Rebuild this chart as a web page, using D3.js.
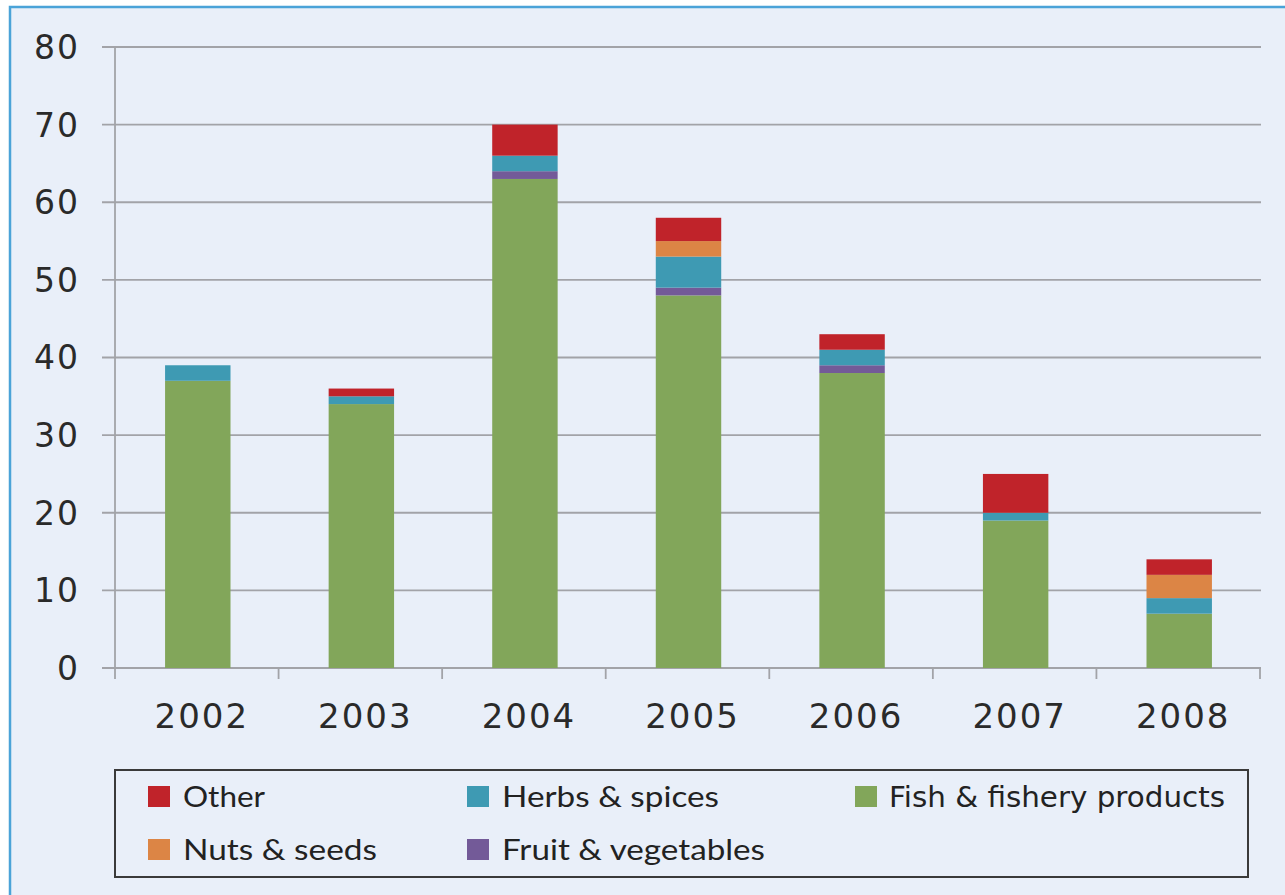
<!DOCTYPE html>
<html>
<head>
<meta charset="utf-8">
<script src="https://cdn.jsdelivr.net/npm/d3@7"></script>
<style>
  html, body { margin: 0; padding: 0; background: #ffffff; }
  svg { display: block; }
</style>
</head>
<body>
<svg id="chart" width="1285" height="895"></svg>
<script>
// ---- Data ----
const years = ["2002", "2003", "2004", "2005", "2006", "2007", "2008"];
const fish   = [37, 34, 63, 48, 38, 19, 7];
const fruit  = [0, 0, 1, 1, 1, 0, 0];
const herbs  = [2, 1, 2, 4, 2, 1, 2];
const nuts   = [0, 0, 0, 2, 0, 0, 3];
const other  = [0, 1, 4, 3, 2, 5, 2];
const yTicks = [0, 10, 20, 30, 40, 50, 60, 70, 80];

const seriesNames = ["Fish & fishery products", "Fruit & vegetables", "Herbs & spices", "Nuts & seeds", "Other"];
const seriesValues = [fish, fruit, herbs, nuts, other];
const colors = {
  "Fish & fishery products": "#82a65a",
  "Fruit & vegetables": "#735a98",
  "Herbs & spices": "#3e9ab3",
  "Nuts & seeds": "#dc8545",
  "Other": "#c0232a"
};

// legend layout order (rows)
const legendItems = [
  {name: "Other", col: 0, row: 0, w: 82},
  {name: "Herbs & spices", col: 1, row: 0, w: 217},
  {name: "Fish & fishery products", col: 2, row: 0, w: 336},
  {name: "Nuts & seeds", col: 0, row: 1, w: 194},
  {name: "Fruit & vegetables", col: 1, row: 1, w: 263}
];

const table = years.map((yr, i) => {
  const o = {year: yr};
  seriesNames.forEach((s, k) => o[s] = seriesValues[k][i]);
  return o;
});

const svg = d3.select("#chart");

// outer panel
svg.append("rect").attr("x", 10).attr("y", 7).attr("width", 1285).attr("height", 900)
  .attr("fill", "#e9eff9").attr("stroke", "#4aa3d8").attr("stroke-width", 2.5);

const pLeft = 115, pRight = 1260, pTop = 47, pBottom = 668;

const x = d3.scaleBand().domain(years).range([pLeft, pRight]).paddingInner(0.6).paddingOuter(0.3);
const xb = d3.scaleBand().domain(years).range([pLeft, pRight]);
const y = d3.scaleLinear().domain([0, 80]).range([pBottom, pTop]);

// gridlines
svg.append("g").selectAll("line").data(yTicks).join("line")
  .attr("x1", 102).attr("x2", pRight + 1)
  .attr("y1", d => y(d)).attr("y2", d => y(d))
  .attr("stroke", "#a2a3a8").attr("stroke-width", 1.8);

// y labels
svg.append("g").selectAll("text").data(yTicks).join("text")
  .attr("x", 80).attr("y", d => y(d)).attr("dy", "0.36em")
  .attr("text-anchor", "end")
  .attr("font-family", "DejaVu Sans, Verdana, sans-serif")
  .attr("font-size", 33).attr("fill", "#2a2a2a")
  .attr("letter-spacing", 2)
  .text(d => d);

// stacked bars
const stack = d3.stack().keys(seriesNames);
const stacked = stack(table);
svg.append("g").selectAll("g").data(stacked).join("g")
  .attr("fill", d => colors[d.key])
  .selectAll("rect").data(d => d.filter(p => p[1] > p[0])).join("rect")
  .attr("x", d => x(d.data.year) + 1)
  .attr("width", x.bandwidth())
  .attr("y", d => y(d[1]))
  .attr("height", d => y(d[0]) - y(d[1]));

// y axis line
svg.append("line").attr("x1", pLeft).attr("x2", pLeft).attr("y1", pTop).attr("y2", 679)
  .attr("stroke", "#a2a3a8").attr("stroke-width", 1.8);

// x axis ticks at category boundaries
const boundaries = years.map(d => xb(d)).concat([pRight]);
svg.append("g").selectAll("line").data(boundaries.slice(1)).join("line")
  .attr("x1", d => d).attr("x2", d => d).attr("y1", pBottom).attr("y2", 679)
  .attr("stroke", "#a2a3a8").attr("stroke-width", 1.8);

// x labels
svg.append("g").selectAll("text").data(years).join("text")
  .attr("x", d => xb(d) + xb.bandwidth() / 2 + 5).attr("y", 728)
  .attr("text-anchor", "middle")
  .attr("font-family", "DejaVu Sans, Verdana, sans-serif")
  .attr("font-size", 34).attr("fill", "#2a2a2a")
  .attr("letter-spacing", 2)
  .text(d => d);

// legend
svg.append("rect").attr("x", 115).attr("y", 770).attr("width", 1133).attr("height", 107)
  .attr("fill", "none").attr("stroke", "#3a3a3a").attr("stroke-width", 2);

const colX = [148, 467, 855];
const rowY = [786, 839];
const lg = svg.append("g").selectAll("g").data(legendItems).join("g");
lg.append("rect")
  .attr("x", d => colX[d.col]).attr("y", d => rowY[d.row])
  .attr("width", 22).attr("height", 21)
  .attr("fill", d => colors[d.name]);
lg.append("text")
  .attr("x", d => colX[d.col] + (d.col === 2 ? 34 : 35))
  .attr("y", d => rowY[d.row] + 21)
  .attr("font-family", d => d.col === 2 ? "DejaVu Sans, Verdana, sans-serif" : "Lato, Open Sans, sans-serif")
  .attr("font-size", 29)
  .attr("fill", "#222")
  .attr("textLength", d => d.w)
  .attr("lengthAdjust", "spacingAndGlyphs")
  .text(d => d.name);
</script>
</body>
</html>
